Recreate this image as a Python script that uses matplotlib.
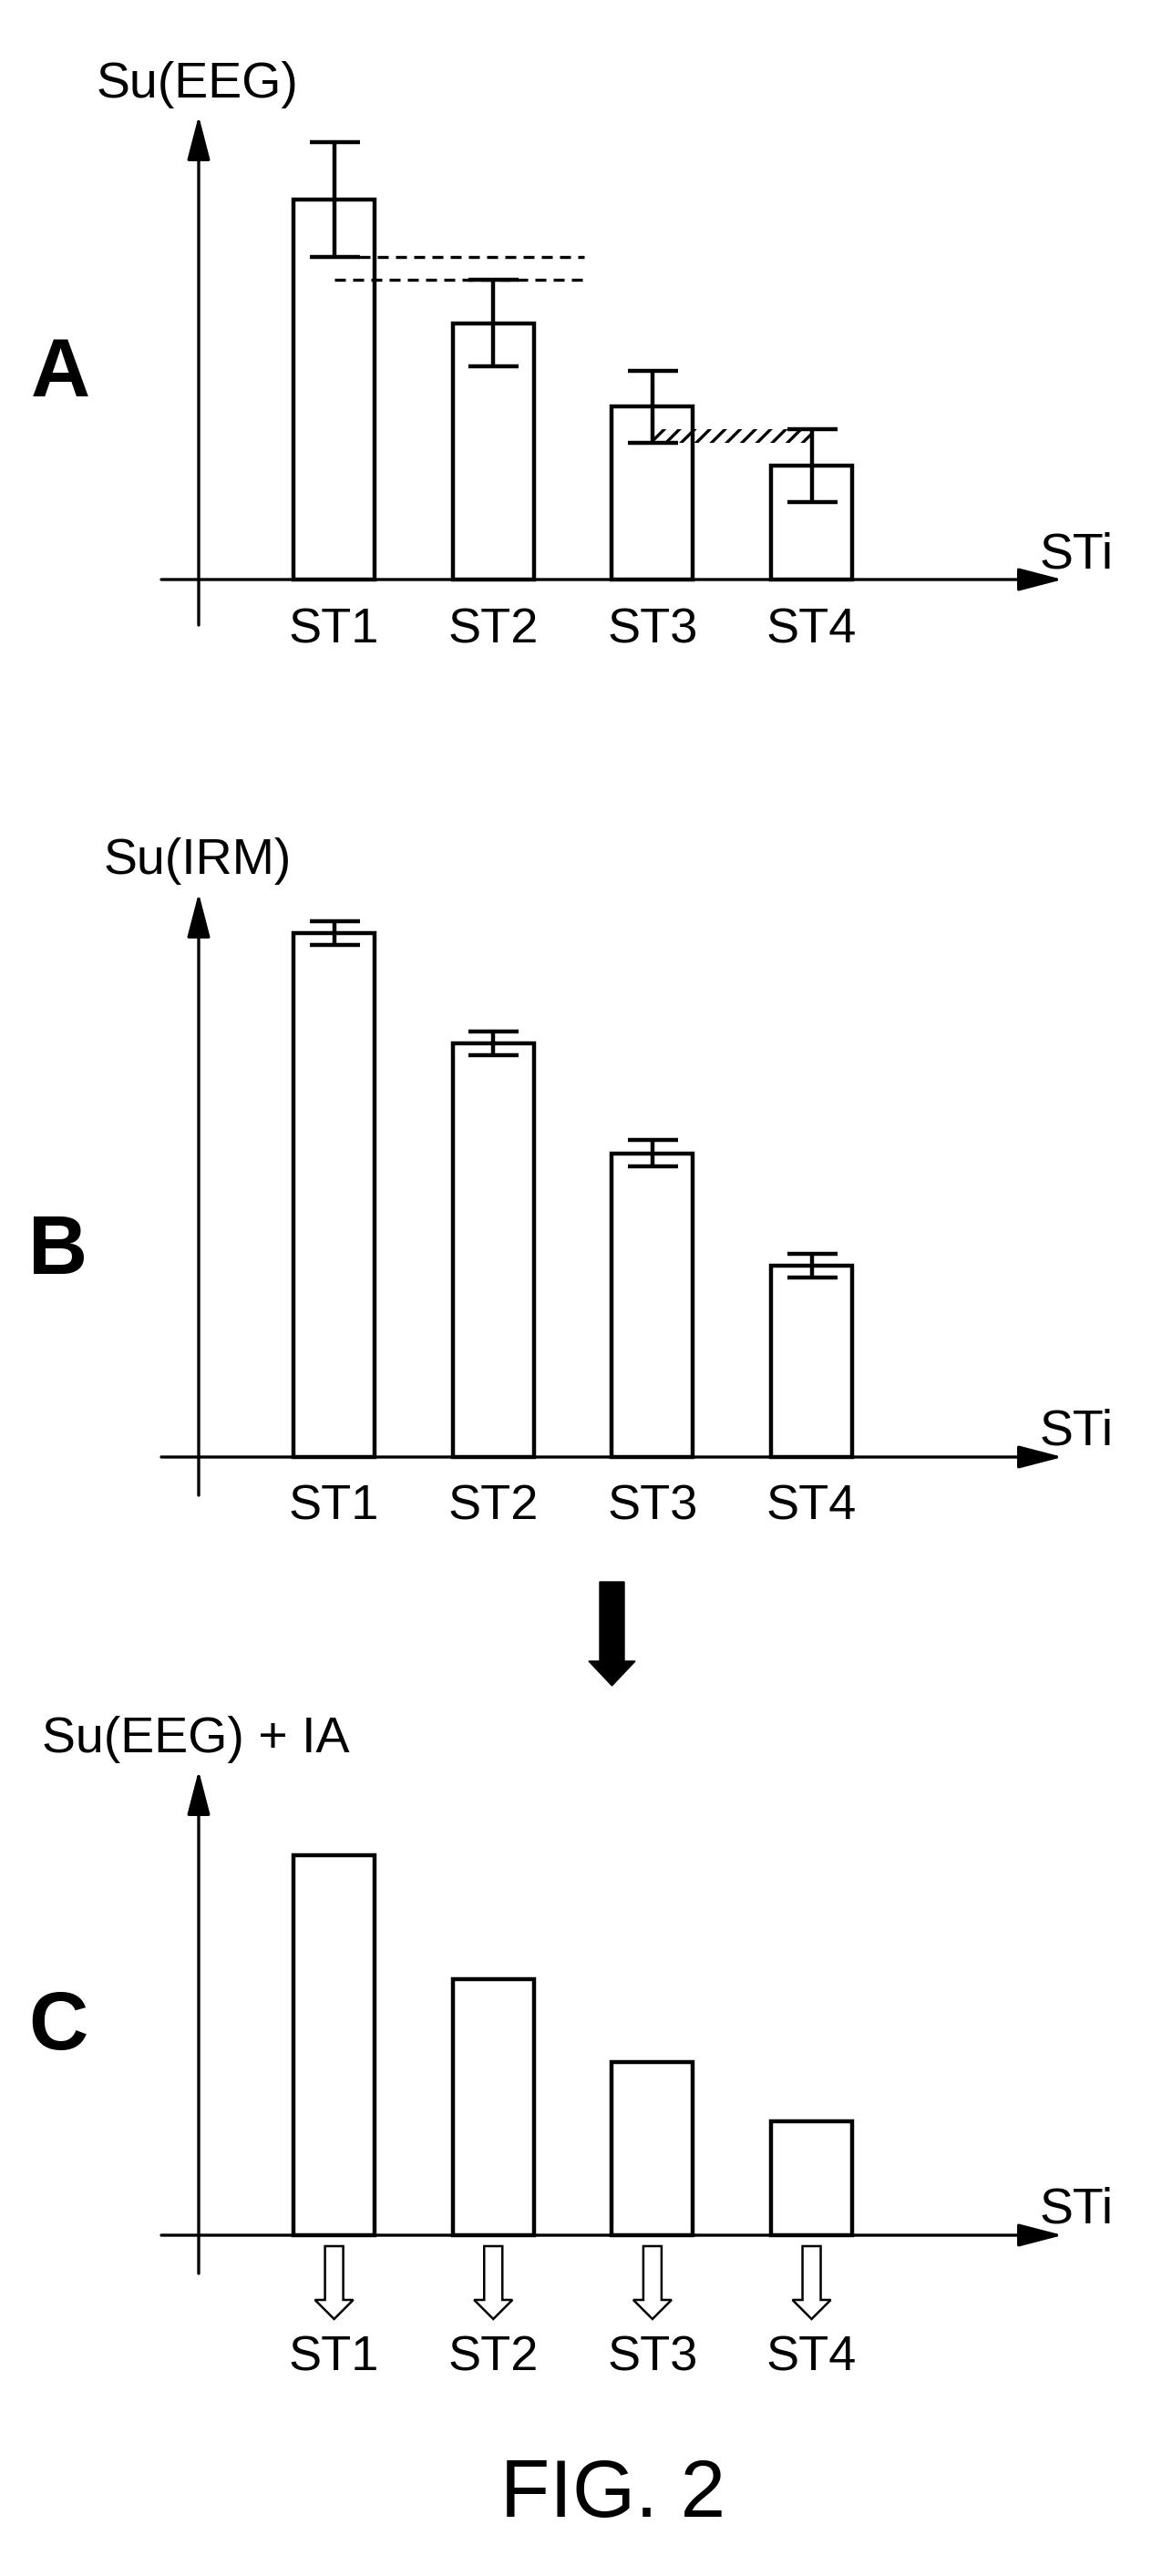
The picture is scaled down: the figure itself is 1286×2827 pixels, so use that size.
import numpy as np
import matplotlib
matplotlib.use("Agg")
import matplotlib.pyplot as plt
from matplotlib import transforms
from matplotlib.patches import FancyArrow

# ---------------------------------------------------------------
# data (arbitrary units)
# ---------------------------------------------------------------
categories = ["ST1", "ST2", "ST3", "ST4"]
su_eeg = [10.0, 6.75, 4.55, 3.0]
su_eeg_err = [1.5, 1.15, 0.95, 0.95]
su_irm = [10.0, 7.9, 5.8, 3.65]
su_irm_err = [0.23, 0.23, 0.25, 0.23]
su_eeg_ia = [10.0, 6.75, 4.55, 3.0]

# ---------------------------------------------------------------
# layout (pixels of the 1286 x 2827 page)
# ---------------------------------------------------------------
W, H = 1286, 2827
X0, DX = 366.6, 174.65      # centre of ST1, step between categories
BAR_W = 0.51
FS = 40
LW = 3.2

plt.rcParams["font.family"] = ["Liberation Sans", "DejaVu Sans"]
plt.rcParams["hatch.linewidth"] = 2.4

fig = plt.figure(figsize=(W / 100, H / 100), dpi=100)


def ftext(x, y, s, **kw):
    fig.text(x / W, 1 - y / H, s, va="baseline", **kw)


def panel(top, bottom, base, scale, y_tip, y_end, lbl_base):
    ax = fig.add_axes([0, 1 - bottom / H, 1, (bottom - top) / H])
    ax.set_xlim(-X0 / DX, (W - X0) / DX)
    ax.set_ylim(-(bottom - base) / scale, (base - top) / scale)
    ax.axis("off")

    # axes with arrow heads
    kw = dict(arrowstyle="-|>,head_length=3.0,head_width=0.78", mutation_scale=10,
              lw=2.4, color="black", shrinkA=0, shrinkB=0)
    yx = (218 - X0) / DX
    ax.annotate("", xy=((1166 - X0) / DX, 0), xytext=((177 - X0) / DX, 0),
                arrowprops=kw, annotation_clip=False)
    ax.annotate("", xy=(yx, y_tip / scale), xytext=(yx, -y_end / scale),
                arrowprops=kw, annotation_clip=False)
    ftext(1141, base - 13, "STi", fontsize=FS)

    if lbl_base is not None:
        tr = transforms.blended_transform_factory(ax.transData, fig.transFigure)
        for i, c in enumerate(categories):
            ax.text(i, 1 - lbl_base / H, c, transform=tr, ha="center",
                    va="baseline", fontsize=39)
    return ax


idx = np.arange(len(categories))

# ---------------------------------------------------------------
# A : Su(EEG)
# ---------------------------------------------------------------
axA = panel(0, 800, 636, 41.7, 509, 50, 705)
axA.bar(idx, su_eeg, width=BAR_W, facecolor="white", edgecolor="black",
        linewidth=LW, zorder=2)
axA.errorbar(idx, su_eeg, yerr=su_eeg_err, fmt="none", ecolor="black",
             elinewidth=LW, capsize=19.8, capthick=LW, zorder=3)

lo = np.array(su_eeg) - np.array(su_eeg_err)
hi = np.array(su_eeg) + np.array(su_eeg_err)
cap_half = 27.5 / DX
axA.plot([cap_half, 1.57], [lo[0], lo[0]], color="black", lw=2.4,
         linestyle=(0, (3.6, 2.4)), zorder=3)
axA.plot([0, 1.57], [hi[1], hi[1]], color="black", lw=2.4,
         linestyle=(0, (3.6, 2.4)), zorder=3)
axA.fill_between([2, 3], lo[2], hi[3], facecolor="none", edgecolor="black",
                 hatch="//", linewidth=0, zorder=3)

ftext(106, 107, "Su(EEG)", fontsize=FS)
ftext(66, 435, "A", fontsize=65, fontweight="bold", ha="center")

# ---------------------------------------------------------------
# B : Su(IRM)
# ---------------------------------------------------------------
axB = panel(800, 1700, 1599, 57.5, 619, 42, 1668)
axB.bar(idx, su_irm, width=BAR_W, facecolor="white", edgecolor="black",
        linewidth=LW, zorder=2)
axB.errorbar(idx, su_irm, yerr=su_irm_err, fmt="none", ecolor="black",
             elinewidth=LW, capsize=19.8, capthick=LW, zorder=3)

ftext(114, 959, "Su(IRM)", fontsize=FS)
ftext(64, 1398, "B", fontsize=65, fontweight="bold", ha="center")

# big arrow B -> C
fig.add_artist(FancyArrow(671.5, H - 1736, 0, -(1850 - 1736), width=27,
                          head_width=51, head_length=27, length_includes_head=True,
                          color="black", transform=transforms.IdentityTransform()))

# ---------------------------------------------------------------
# C : Su(EEG) + IA
# ---------------------------------------------------------------
scC = 41.7
axC = panel(1700, 2827, 2453, scC, 510, 42, 2602)
axC.bar(idx, su_eeg_ia, width=BAR_W, facecolor="white", edgecolor="black",
        linewidth=LW, zorder=2)
for i in idx:
    axC.add_patch(FancyArrow(i, -12 / scC, 0, -80 / scC, width=20 / DX,
                             head_width=42 / DX, head_length=21 / scC,
                             length_includes_head=True, facecolor="white",
                             edgecolor="black", lw=1.8, clip_on=False))

ftext(46, 1923, "Su(EEG) + IA", fontsize=FS)
ftext(64, 2249, "C", fontsize=65, fontweight="bold", ha="center")

ftext(673, 2762, "FIG. 2", fontsize=64, ha="center")

fig.savefig("out.png", dpi=100)
